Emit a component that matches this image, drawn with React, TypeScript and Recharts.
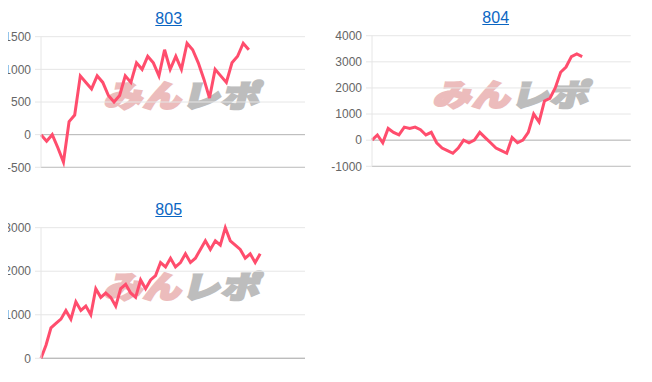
import { LineChart, Line, XAxis, YAxis, CartesianGrid, ReferenceLine } from 'recharts';

// cumulative values per machine (one point per day)
const values803 = [
  0, -100, 0, -200, -420, 200, 300, 900, 800, 700,
  900, 800, 600, 500, 600, 900, 800, 1100, 1000, 1200,
  1100, 900, 1300, 1000, 1200, 1000, 1400, 1300, 1100, 850,
  560, 1000, 900, 800, 1100, 1200, 1400, 1300,
];
const values804 = [
  0, 200, -100, 450, 300, 200, 500, 450, 500, 400,
  200, 300, -100, -300, -400, -500, -300, 0, -100, 0,
  300, 100, -100, -300, -400, -500, 100, -100, 0, 300,
  1000, 700, 1500, 1600, 2000, 2600, 2800, 3200, 3300, 3200,
];
const values805 = [
  0, 300, 700, 800, 900, 1100, 900, 1300, 1100, 1200,
  1000, 1600, 1400, 1500, 1400, 1200, 1600, 1700, 1500, 1400,
  1800, 1600, 1800, 1900, 2200, 2100, 2300, 2100, 2200, 2400,
  2200, 2300, 2500, 2700, 2500, 2700, 2600, 3000, 2700, 2600,
  2500, 2300, 2400, 2200, 2400,
];

// number of day slots on each x axis (the tail is still empty)
const slots803 = 48;
const slots804 = 49;
const slots805 = 54;

const ticks803 = [-500, 0, 500, 1000, 1500];
const ticks804 = [-1000, 0, 1000, 2000, 3000, 4000];
const ticks805 = [0, 1000, 2000, 3000];

const LINE = '#ff4d6d';
const GRID = '#e6e6e6';
const AXIS_W = 45;

function buildRows(values: number[], slots: number) {
  return Array.from({ length: slots }, (_, i) => ({
    idx: i,
    value: i < values.length ? values[i] : null,
  }));
}

interface MiniChartProps {
  title: string;
  values: number[];
  slots: number;
  ticks: number[];
  plotLeft: number; // page coords
  plotRight: number;
  plotTop: number;
  titleX: number;
}

function MiniChart({ title, values, slots, ticks, plotLeft, plotRight, plotTop, titleX }: MiniChartProps) {
  const rows = buildRows(values, slots);
  const left = plotLeft - 8 - AXIS_W;
  const top = plotTop - 8 - 8.7;
  const width = plotRight - plotLeft + AXIS_W + 8;
  const wmX = (plotLeft + plotRight) / 2 + 12 - 8;
  return (
    <>
      <div
        style={{
          position: 'absolute', left: titleX - 8 - 50, top: plotTop - 8 - 27, width: 100,
          textAlign: 'center', fontSize: 16, lineHeight: '18px',
          fontFamily: '"Liberation Sans", Arial, sans-serif',
        }}
      >
        <a href="#" style={{ color: '#0b66c3' }}>{title}</a>
      </div>
      <div
        style={{
          position: 'absolute', left: wmX - 85, top: plotTop - 8 + 38, width: 170, height: 36,
          display: 'flex', justifyContent: 'center', alignItems: 'center',
          fontFamily: '"Noto Sans CJK JP", sans-serif', fontSize: 38, fontWeight: 900,
          transform: 'skewX(-14deg) scaleY(0.8)', whiteSpace: 'nowrap', letterSpacing: 1,
        }}
      >
        <span style={{ color: '#ecbcbc', WebkitTextStroke: '3px #ecbcbc' }}>みん</span>
        <span style={{ color: '#bdbdbd', WebkitTextStroke: '3px #bdbdbd' }}>レポ</span>
      </div>
      <div style={{ position: 'absolute', left, top }}>
        <LineChart
          width={width}
          height={150}
          data={rows}
          margin={{ top: 8.7, right: 8, bottom: 10.7, left: 0 }}
        >
          <CartesianGrid vertical={false} stroke={GRID} />
          <XAxis dataKey="idx" hide />
          <YAxis
            type="number"
            domain={[ticks[0], ticks[ticks.length - 1]]}
            ticks={ticks}
            interval={0}
            width={AXIS_W}
            tickSize={6}
            tickMargin={4}
            axisLine={{ stroke: GRID }}
            tickLine={{ stroke: GRID }}
            tick={{ fill: '#666', fontSize: 12, fontFamily: '"Liberation Sans", Arial, sans-serif' }}
          />
          <ReferenceLine y={ticks[0]} stroke="#c2c2c2" />
          <ReferenceLine y={0} stroke="#b8b8b8" />
          <Line
            type="linear"
            dataKey="value"
            stroke={LINE}
            strokeWidth={3}
            dot={false}
            activeDot={false}
            isAnimationActive={false}
          />
        </LineChart>
      </div>
    </>
  );
}

export default function App() {
  return (
    <div style={{ position: 'relative', width: 636, height: 366 }}>
      <MiniChart title="803" values={values803} slots={slots803} ticks={ticks803}
        plotLeft={41} plotRight={305} plotTop={36.7} titleX={168.7} />
      <MiniChart title="804" values={values804} slots={slots804} ticks={ticks804}
        plotLeft={372.3} plotRight={631} plotTop={36} titleX={495.7} />
      <MiniChart title="805" values={values805} slots={slots805} ticks={ticks805}
        plotLeft={41} plotRight={305} plotTop={227.7} titleX={168.7} />
    </div>
  );
}
